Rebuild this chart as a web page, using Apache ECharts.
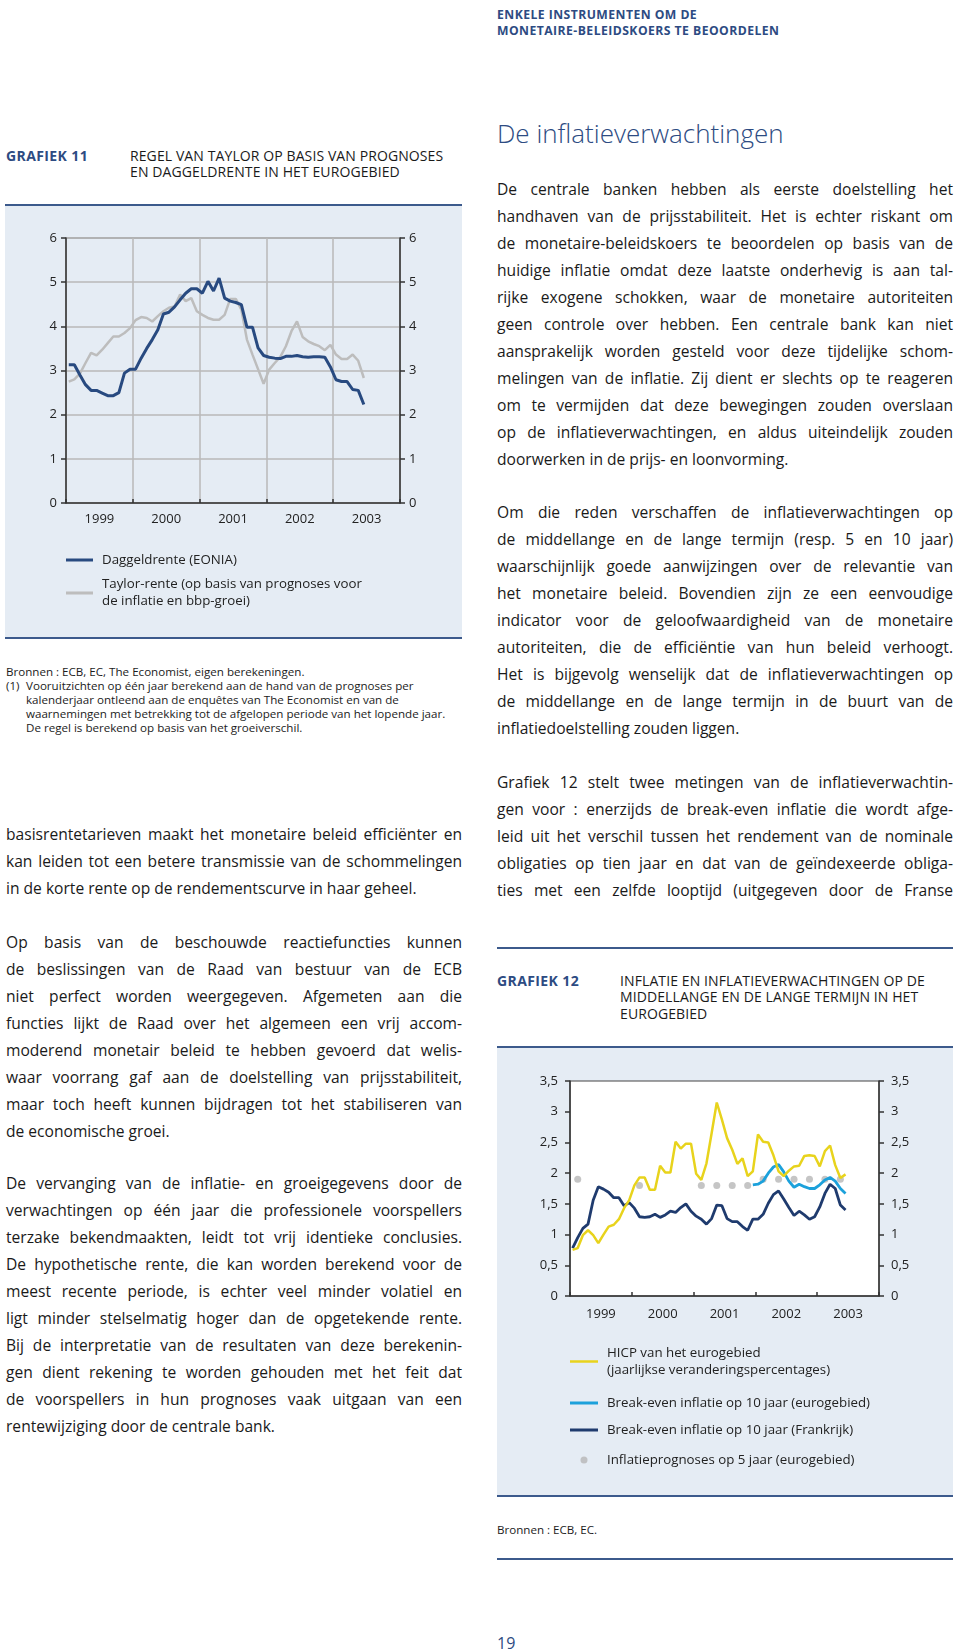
<!DOCTYPE html>
<html lang="nl">
<head>
<meta charset="utf-8">
<title>Grafiek 11 en 12</title>
<script src="https://cdn.jsdelivr.net/npm/echarts@6/dist/echarts.min.js"></script>
<style>
  html, body { margin: 0; padding: 0; background: #fff; }
  body { position: relative; width: 960px; height: 1650px; overflow: hidden;
    font-family: 'Open Sans', 'Noto Sans', sans-serif; color: #1c1c1c; }
  .abs { position: absolute; }
  .runhead { left: 497px; top: 6.5px; font-size: 12.2px; font-weight: 700; color: #2d4b82;
    line-height: 16px; letter-spacing: 0.45px; }
  .gnum { font-size: 14px; font-weight: 700; color: #2d4b82; line-height: 16.5px; letter-spacing: 0.4px; }
  .gtitle { font-size: 14px; color: #1a1a1a; line-height: 16.5px; letter-spacing: 0.1px; }
  .panel { background: #e5ecf4; border-top: 2px solid #3c5a8c; border-bottom: 2px solid #3c5a8c; }
  .rule { height: 0; border-top: 2px solid #3c5a8c; }
  .note { font-size: 11.6px; line-height: 14px; color: #1c1c1c; }
  .para { width: 456px; font-size: 15.6px; line-height: 27px; color: #1a1a1a; }
  .para div { height: 27px; white-space: nowrap; }
  .heading { left: 497px; top: 115px; font-size: 26px; font-weight: 300; color: #2d4b82; line-height: 36px; }
  .pagenr { left: 497px; top: 1633px; font-size: 16px; color: #2d4b82; line-height: 20px; }
</style>
</head>
<body>

<div class="abs runhead">ENKELE INSTRUMENTEN OM DE<br>MONETAIRE-BELEIDSKOERS TE BEOORDELEN</div>

<!-- Grafiek 11 -->
<div class="abs gnum" style="left:6px;top:147.75px">GRAFIEK 11</div>
<div class="abs gtitle" style="left:130px;top:147.75px">REGEL VAN TAYLOR OP BASIS VAN PROGNOSES<br>EN DAGGELDRENTE IN HET EUROGEBIED</div>
<div class="abs panel" style="left:5px;top:204px;width:457px;height:431px">
  <div id="chart11" style="width:457px;height:431px"></div>
</div>
<div class="abs note" style="left:6px;top:665px;width:460px">
  <div>Bronnen : ECB, EC, The Economist, eigen berekeningen.</div>
  <div style="position:relative;padding-left:20px">
    <span style="position:absolute;left:0;top:0">(1)</span>
    Vooruitzichten op één jaar berekend aan de hand van de prognoses per<br>
    kalenderjaar ontleend aan de enquêtes van The Economist en van de<br>
    waarnemingen met betrekking tot de afgelopen periode van het lopende jaar.<br>
    De regel is berekend op basis van het groeiverschil.
  </div>
</div>

<!-- linker kolom -->
<div class="abs para" style="left:6px;top:820.5px">
  <div class="j">basisrentetarieven maakt het monetaire beleid efficiënter en</div>
  <div class="j">kan leiden tot een betere transmissie van de schommelingen</div>
  <div>in de korte rente op de rendementscurve in haar geheel.</div>
</div>
<div class="abs para" style="left:6px;top:928.5px">
  <div class="j">Op basis van de beschouwde reactiefuncties kunnen</div>
  <div class="j">de beslissingen van de Raad van bestuur van de ECB</div>
  <div class="j">niet perfect worden weergegeven. Afgemeten aan die</div>
  <div class="j">functies lijkt de Raad over het algemeen een vrij accom-</div>
  <div class="j">moderend monetair beleid te hebben gevoerd dat welis-</div>
  <div class="j">waar voorrang gaf aan de doelstelling van prijsstabiliteit,</div>
  <div class="j">maar toch heeft kunnen bijdragen tot het stabiliseren van</div>
  <div>de economische groei.</div>
</div>
<div class="abs para" style="left:6px;top:1169.5px">
  <div class="j">De vervanging van de inflatie- en groeigegevens door de</div>
  <div class="j">verwachtingen op één jaar die professionele voorspellers</div>
  <div class="j">terzake bekendmaakten, leidt tot vrij identieke conclusies.</div>
  <div class="j">De hypothetische rente, die kan worden berekend voor de</div>
  <div class="j">meest recente periode, is echter veel minder volatiel en</div>
  <div class="j">ligt minder stelselmatig hoger dan de opgetekende rente.</div>
  <div class="j">Bij de interpretatie van de resultaten van deze berekenin-</div>
  <div class="j">gen dient rekening te worden gehouden met het feit dat</div>
  <div class="j">de voorspellers in hun prognoses vaak uitgaan van een</div>
  <div>rentewijziging door de centrale bank.</div>
</div>

<!-- rechter kolom -->
<div class="abs heading">De inflatieverwachtingen</div>
<div class="abs para" style="left:497px;top:175.5px">
  <div class="j">De centrale banken hebben als eerste doelstelling het</div>
  <div class="j">handhaven van de prijsstabiliteit. Het is echter riskant om</div>
  <div class="j">de monetaire-beleidskoers te beoordelen op basis van de</div>
  <div class="j">huidige inflatie omdat deze laatste onderhevig is aan tal-</div>
  <div class="j">rijke exogene schokken, waar de monetaire autoriteiten</div>
  <div class="j">geen controle over hebben. Een centrale bank kan niet</div>
  <div class="j">aansprakelijk worden gesteld voor deze tijdelijke schom-</div>
  <div class="j">melingen van de inflatie. Zij dient er slechts op te reageren</div>
  <div class="j">om te vermijden dat deze bewegingen zouden overslaan</div>
  <div class="j">op de inflatieverwachtingen, en aldus uiteindelijk zouden</div>
  <div>doorwerken in de prijs- en loonvorming.</div>
</div>
<div class="abs para" style="left:497px;top:498.5px">
  <div class="j">Om die reden verschaffen de inflatieverwachtingen op</div>
  <div class="j">de middellange en de lange termijn (resp. 5 en 10 jaar)</div>
  <div class="j">waarschijnlijk goede aanwijzingen over de relevantie van</div>
  <div class="j">het monetaire beleid. Bovendien zijn ze een eenvoudige</div>
  <div class="j">indicator voor de geloofwaardigheid van de monetaire</div>
  <div class="j">autoriteiten, die de efficiëntie van hun beleid verhoogt.</div>
  <div class="j">Het is bijgevolg wenselijk dat de inflatieverwachtingen op</div>
  <div class="j">de middellange en de lange termijn in de buurt van de</div>
  <div>inflatiedoelstelling zouden liggen.</div>
</div>
<div class="abs para" style="left:497px;top:768.5px">
  <div class="j">Grafiek 12 stelt twee metingen van de inflatieverwachtin-</div>
  <div class="j">gen voor : enerzijds de break-even inflatie die wordt afge-</div>
  <div class="j">leid uit het verschil tussen het rendement van de nominale</div>
  <div class="j">obligaties op tien jaar en dat van de geïndexeerde obliga-</div>
  <div class="j">ties met een zelfde looptijd (uitgegeven door de Franse</div>
</div>

<!-- Grafiek 12 -->
<div class="abs rule" style="left:497px;top:947px;width:456px"></div>
<div class="abs gnum" style="left:497px;top:972.75px">GRAFIEK 12</div>
<div class="abs gtitle" style="left:620px;top:972.75px">INFLATIE EN INFLATIEVERWACHTINGEN OP DE<br>MIDDELLANGE EN DE LANGE TERMIJN IN HET<br>EUROGEBIED</div>
<div class="abs panel" style="left:497px;top:1046px;width:456px;height:447px">
  <div id="chart12" style="width:456px;height:447px"></div>
</div>
<div class="abs note" style="left:497px;top:1523px">Bronnen : ECB, EC.</div>
<div class="abs rule" style="left:497px;top:1558px;width:456px"></div>
<div class="abs pagenr">19</div>

<script>
  // uitgevulde regels: woordafstand zo zetten dat elke regel 456px breed is
  document.querySelectorAll('.para .j').forEach(function (line) {
    const text = line.textContent
    line.innerHTML = '<span>' + line.innerHTML + '</span>'
    const natural = line.firstChild.getBoundingClientRect().width
    const spaces = (text.match(/ /g) || []).length
    if (spaces > 0) line.style.wordSpacing = ((456 - natural) / spaces) + 'px'
  })

  const FONT = "'Open Sans', 'Noto Sans', sans-serif"
  const years = ['1999', '2000', '2001', '2002', '2003']

  // Grafiek 11: maandgemiddelden, januari 1999 - juni 2003
  const eonia = [3.13, 3.13, 2.9, 2.68, 2.55, 2.55, 2.49, 2.43, 2.43, 2.5,
    2.94, 3.03, 3.03, 3.28, 3.5, 3.7, 3.92, 4.28, 4.32, 4.44,
    4.6, 4.75, 4.85, 4.85, 4.75, 5.02, 4.8, 5.09, 4.64, 4.57,
    4.54, 4.49, 3.98, 3.98, 3.51, 3.34, 3.3, 3.28, 3.27, 3.32,
    3.32, 3.34, 3.31, 3.3, 3.31, 3.31, 3.3, 3.08, 2.79, 2.75,
    2.75, 2.57, 2.55, 2.23]
  const taylor = [2.75, 2.8, 2.93, 3.17, 3.4, 3.34, 3.47, 3.62, 3.77, 3.77,
    3.85, 3.96, 4.14, 4.21, 4.19, 4.11, 4.23, 4.34, 4.42, 4.45,
    4.72, 4.57, 4.64, 4.34, 4.26, 4.19, 4.15, 4.15, 4.26, 4.62,
    4.62, 4.38, 3.7, 3.36, 3.03, 2.7, 3.02, 3.17, 3.31, 3.55,
    3.89, 4.11, 3.76, 3.66, 3.6, 3.55, 3.46, 3.58, 3.36, 3.26,
    3.26, 3.36, 3.22, 2.83]

  // Grafiek 12
  const hicp = [0.75, 0.78, 0.99, 1.07, 0.99, 0.86, 1.0, 1.13, 1.16, 1.25,
    1.43, 1.56, 1.8, 1.93, 1.93, 1.73, 1.73, 2.12, 2.01, 2.01,
    2.51, 2.4, 2.48, 2.48, 1.99, 1.89, 2.16, 2.65, 3.15, 2.87,
    2.57, 2.38, 2.15, 2.24, 1.95, 2.03, 2.63, 2.51, 2.5, 2.29,
    2.03, 1.95, 2.04, 2.11, 2.12, 2.28, 2.29, 2.28, 2.11, 2.36,
    2.45, 2.13, 1.92, 1.98]
  const beFrance = [0.78, 0.95, 1.1, 1.17, 1.56, 1.78, 1.74, 1.69, 1.6, 1.6,
    1.47, 1.52, 1.43, 1.29, 1.28, 1.29, 1.33, 1.28, 1.32, 1.38,
    1.36, 1.44, 1.5, 1.38, 1.3, 1.25, 1.17, 1.26, 1.48, 1.47,
    1.26, 1.21, 1.21, 1.13, 1.07, 1.25, 1.25, 1.33, 1.51, 1.65,
    1.71, 1.58, 1.44, 1.31, 1.38, 1.32, 1.25, 1.29, 1.45, 1.67,
    1.82, 1.75, 1.48, 1.4]
  const beEuroStart = 35   // eerste maand met gegevens (december 2001)
  const beEuro = [1.81, 1.82, 1.87, 2.0, 2.1, 2.14, 2.02, 1.87, 1.77, 1.82,
    1.78, 1.75, 1.75, 1.81, 1.89, 1.93, 1.87, 1.75, 1.67]
  const forecastMonths = [1, 13, 25, 28, 31, 34, 37, 40, 43, 46, 49, 52]
  const forecastValues = [1.9, 1.8, 1.8, 1.8, 1.8, 1.8, 1.9, 1.9, 1.9, 1.9, 1.9, 1.9]

  const names = {
    eonia: 'Daggeldrente (EONIA)',
    taylor: 'Taylor-rente (op basis van prognoses voor\nde inflatie en bbp-groei)',
    hicp: 'HICP van het eurogebied\n(jaarlijkse veranderingspercentages)',
    beEuro: 'Break-even inflatie op 10 jaar (eurogebied)',
    beFrance: 'Break-even inflatie op 10 jaar (Frankrijk)',
    forecast: 'Inflatieprognoses op 5 jaar (eurogebied)'
  }

  // punt in het midden van de maand
  function monthPoints(values, start) {
    return values.map((v, i) => [(start || 0) + i + 0.5, v])
  }

  function xAxes(labelMargin) {
    return [
      {
        type: 'value', position: 'bottom', min: 0, max: 60, interval: 12,
        axisLine: { show: true, onZero: false, lineStyle: { color: '#333', width: 1.5 } },
        axisTick: { show: true, inside: true, length: 4, lineStyle: { color: '#333', width: 1.5 } },
        axisLabel: { show: false },
        splitLine: { show: false }
      },
      {
        type: 'category', position: 'bottom', data: years, boundaryGap: true,
        axisLine: { show: false, onZero: false }, axisTick: { show: false }, splitLine: { show: false },
        axisLabel: { show: true, margin: labelMargin, fontSize: 13, color: '#222', fontFamily: FONT }
      }
    ]
  }

  function yAxis(position, max, interval, margin, split, fmt) {
    return {
      type: 'value', position: position, min: 0, max: max, interval: interval,
      axisLine: { show: true, lineStyle: { color: '#333', width: 1.5 } },
      axisTick: { show: true, inside: false, length: 5, lineStyle: { color: '#333', width: 1.5 } },
      axisLabel: { margin: margin, fontSize: 13, color: '#222', fontFamily: FONT, formatter: fmt },
      splitLine: { show: split, lineStyle: { color: '#b9b9b9', width: 1.5 } }
    }
  }

  function legendItem(left, top, name, icon, width, height, textPad) {
    return {
      left: left, top: top, orient: 'vertical', padding: 0, selectedMode: false,
      icon: icon, itemWidth: width, itemHeight: height,
      itemStyle: { borderWidth: 0 },
      textStyle: { fontFamily: FONT, fontSize: 13.3, color: '#222', lineHeight: 17, padding: [0, 0, 0, textPad || 4] },
      data: [name]
    }
  }

  const chart11 = echarts.init(document.getElementById('chart11'))
  const x11 = xAxes(10)
  x11[0].splitLine = { show: true, lineStyle: { color: '#b9b9b9', width: 1.5 } }
  chart11.setOption({
    animation: false,
    textStyle: { fontFamily: FONT },
    grid: {
      left: 61, top: 32, width: 334, height: 265, show: true,
      borderColor: '#555', borderWidth: 1, backgroundColor: 'transparent',
      containLabel: false, outerBoundsMode: 'none'
    },
    xAxis: x11,
    yAxis: [yAxis('left', 6, 1, 9, true), yAxis('right', 6, 1, 9, false)],
    legend: [
      legendItem(61, 345.5, names.eonia, 'rect', 27, 3),
      legendItem(61, 370, names.taylor, 'rect', 27, 3)
    ],
    series: [
      {
        name: names.taylor, type: 'line', xAxisIndex: 0, yAxisIndex: 0,
        data: monthPoints(taylor), symbol: 'none', showSymbol: false,
        lineStyle: { color: '#bdbdbd', width: 2.5 }, itemStyle: { color: '#bdbdbd' }
      },
      {
        name: names.eonia, type: 'line', xAxisIndex: 0, yAxisIndex: 0,
        data: monthPoints(eonia), symbol: 'none', showSymbol: false,
        lineStyle: { color: '#284a80', width: 3 }, itemStyle: { color: '#284a80' }
      }
    ]
  })

  const chart12 = echarts.init(document.getElementById('chart12'))
  const comma = v => String(v).replace('.', ',')
  chart12.setOption({
    animation: false,
    textStyle: { fontFamily: FONT },
    grid: {
      left: 73, top: 33, width: 309, height: 215, show: true,
      borderColor: '#444', borderWidth: 1, backgroundColor: '#ffffff',
      containLabel: false, outerBoundsMode: 'none'
    },
    xAxis: xAxes(12),
    yAxis: [yAxis('left', 3.5, 0.5, 12, false, comma), yAxis('right', 3.5, 0.5, 12, false, comma)],
    legend: [
      legendItem(73, 296.5, names.hicp, 'rect', 28, 2.5),
      legendItem(73, 346.5, names.beEuro, 'rect', 28, 3),
      legendItem(73, 373.5, names.beFrance, 'rect', 28, 3),
      legendItem(83.5, 403.5, names.forecast, 'circle', 7, 7, 14.5)
    ],
    series: [
      {
        name: names.forecast, type: 'scatter', xAxisIndex: 0, yAxisIndex: 0,
        data: forecastMonths.map((m, i) => [m + 0.5, forecastValues[i]]),
        symbol: 'circle', symbolSize: 7, itemStyle: { color: '#b7b7b7' }
      },
      {
        name: names.beFrance, type: 'line', xAxisIndex: 0, yAxisIndex: 0,
        data: monthPoints(beFrance), symbol: 'none', showSymbol: false,
        lineStyle: { color: '#1f3b6e', width: 2.8 }, itemStyle: { color: '#1f3b6e' }
      },
      {
        name: names.beEuro, type: 'line', xAxisIndex: 0, yAxisIndex: 0,
        data: monthPoints(beEuro, beEuroStart), symbol: 'none', showSymbol: false,
        lineStyle: { color: '#1ca1db', width: 2.8 }, itemStyle: { color: '#1ca1db' }
      },
      {
        name: names.hicp, type: 'line', xAxisIndex: 0, yAxisIndex: 0,
        data: monthPoints(hicp), symbol: 'none', showSymbol: false,
        lineStyle: { color: '#e8d31c', width: 2.5 }, itemStyle: { color: '#e8d31c' }
      }
    ]
  })

  window.addEventListener('resize', function () {
    chart11.resize()
    chart12.resize()
  })
</script>
</body>
</html>
